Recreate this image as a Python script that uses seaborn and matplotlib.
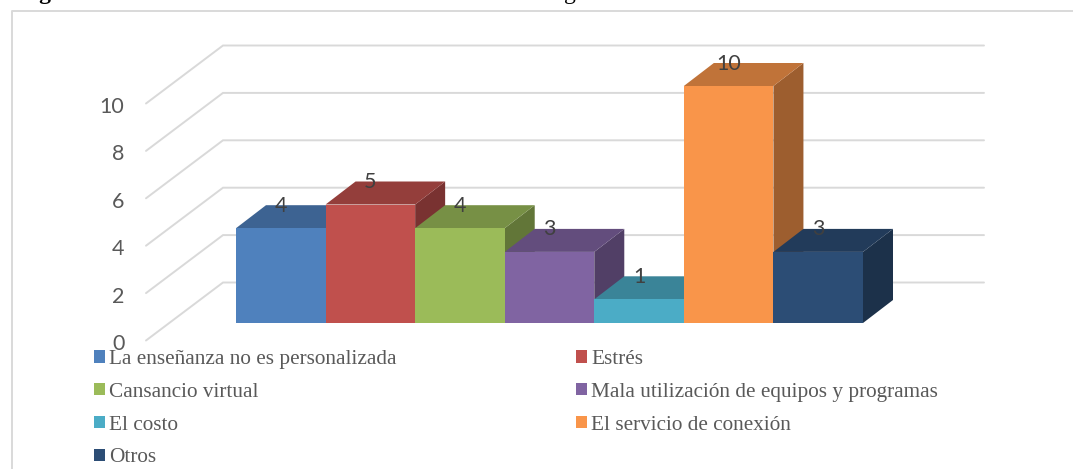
import matplotlib
matplotlib.use("Agg")
import matplotlib.pyplot as plt
from matplotlib.patches import Patch
from matplotlib.lines import Line2D
from matplotlib.colors import to_rgb
import seaborn as sns
import pandas as pd

categories = ["La enseñanza no es personalizada", "Estrés", "Cansancio virtual",
              "Mala utilización de equipos y programas", "El costo",
              "El servicio de conexión", "Otros"]
values = [4, 5, 4, 3, 1, 10, 3]
colors = ["#4F81BD", "#C0504D", "#9BBB59", "#8064A2", "#4BACC6", "#F9954A", "#2C4D75"]
axis_ticks = [0, 2, 4, 6, 8, 10]

W, H = 1073, 469
PX_UNIT_Y = 23.7
BAR_W = (863 - 236) / 7
X0_PX, Y0_PX = 236 + BAR_W / 2, 323

sns.set_theme(style="white")
plt.rcParams["font.family"] = ["DejaVu Sans"]
fig = plt.figure(figsize=(W / 100, H / 100), dpi=100, facecolor="white")
ax = fig.add_axes([0, 0, 1, 1])

df = pd.DataFrame({"cat": categories, "val": values})
sns.barplot(data=df, x="cat", y="val", hue="cat", palette=colors, width=1.0,
            saturation=1, dodge=False, legend=False, ax=ax, zorder=30, linewidth=0)

# pixel-calibrated data window
ax.set_xlim((0 - X0_PX) / BAR_W, (W - X0_PX) / BAR_W)
ax.set_ylim((Y0_PX - H) / PX_UNIT_Y, Y0_PX / PX_UNIT_Y)
ax.axis("off")

def xd(px): return (px - X0_PX) / BAR_W
def yd(px): return (Y0_PX - px) / PX_UNIT_Y

DX, DY = 30 / BAR_W, 23 / PX_UNIT_Y
GRID = "#D9D9D9"
for t in axis_ticks:
    yb = yd(282.5) + t
    yf = yd(340.5) + t
    ax.plot([xd(146), xd(223), xd(984)], [yf, yb, yb], color=GRID, lw=1.4, zorder=1,
            solid_joinstyle="miter")
    ax.text(xd(124.5), yd(342) + t, str(t), ha="right", va="center_baseline", color="#595959",
            fontsize=15.5, family="Lato", zorder=40)

def shade(c, f):
    return tuple(v * f for v in to_rgb(c))

for i, (v, c) in enumerate(zip(values, colors)):
    l, r = i - .5, i + .5
    ax.fill([r, r + DX, r + DX, r], [0, DY, v + DY, v], color=shade(c, .63), lw=0, zorder=5 + 2 * i)
    ax.fill([l, l + DX, r + DX, r], [v, v + DY, v + DY, v], color=shade(c, .77), lw=0, zorder=6 + 2 * i)
    ax.text(i, v + 24.5 / PX_UNIT_Y, str(v), ha="center", va="center_baseline", color="#404040",
            fontsize=15.5, family="Lato", zorder=41)

# chart frame (right and bottom run off the crop)
fig.add_artist(Line2D([12 / W, 12 / W, 1], [0, 1 - 11 / H, 1 - 11 / H], color=GRID, lw=1.4))

# heading, almost entirely cropped away at the top
fig.text(19 / W, 1 + 1.5 / H, "Figura", family="Liberation Serif", weight="bold", fontsize=17,
         ha="left", va="baseline", color="black")
fig.text(564 / W, 1 + 1.5 / H, "g", family="Liberation Serif", fontsize=17,
         ha="left", va="baseline", color="black")

order = [0, 2, 4, 6, 1, 3, 5]
handles = [Patch(facecolor=colors[i], edgecolor="none", label=categories[i]) for i in order]
leg = ax.legend(handles=handles, ncol=2, loc="upper left", bbox_to_anchor=(94 / W, 1 - 350 / H),
                bbox_transform=fig.transFigure, frameon=False, borderpad=0, borderaxespad=0,
                handlelength=0.52, handleheight=0.52, handletextpad=0.19,
                labelspacing=0.65, columnspacing=8.45,
                prop={"family": "Liberation Serif", "size": 15.3}, labelcolor="#595959")
leg.set_zorder(50)

fig.savefig("out.png", dpi=100, facecolor="white")
